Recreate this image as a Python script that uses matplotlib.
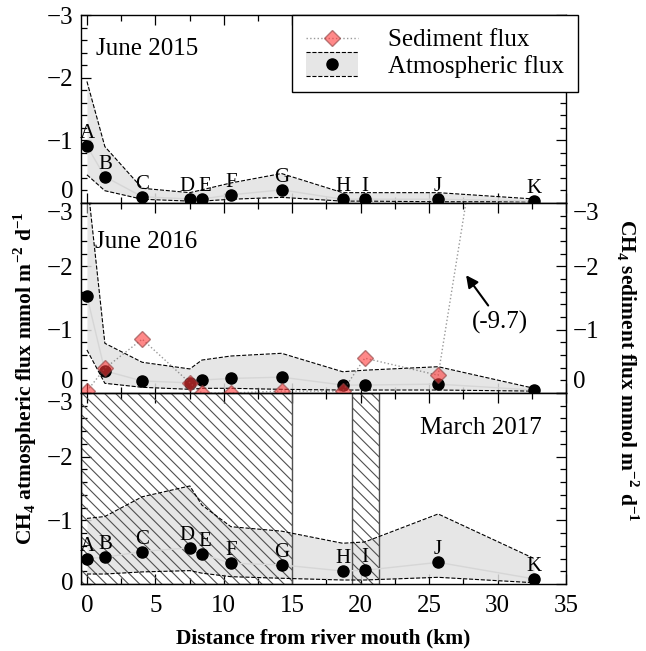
import matplotlib
matplotlib.use('Agg')
import matplotlib.pyplot as plt
from matplotlib.legend_handler import HandlerBase
from matplotlib.lines import Line2D
from matplotlib.patches import Rectangle, Patch

plt.rcParams['font.family'] = ['Liberation Serif', 'DejaVu Serif']
plt.rcParams['mathtext.fontset'] = 'custom'
plt.rcParams['mathtext.rm'] = 'Liberation Serif'
plt.rcParams['mathtext.bf'] = 'Liberation Serif:bold'
plt.rcParams['hatch.linewidth'] = 0.8

# Stations and distance from river mouth (km)
stations = ['A', 'B', 'C', 'D', 'E', 'F', 'G', 'H', 'I', 'J', 'K']
distance = [0, 1.31, 4.04, 7.52, 8.4, 10.52, 14.22, 18.68, 20.3, 25.66, 32.67]

# June 2015 atmospheric flux (mmol m-2 d-1): value, upper and lower bound
atm_2015 = [-0.91, -0.42, -0.10, -0.064, -0.064, -0.13, -0.21, -0.06, -0.06, -0.06, -0.03]
atm_2015_hi = [-1.94, -0.90, -0.235, -0.165, -0.21, -0.32, -0.47, -0.165, -0.165, -0.165, -0.064]
atm_2015_lo = [-0.45, -0.196, -0.06, -0.03, -0.03, -0.06, -0.09, -0.03, -0.03, -0.02, -0.02]

# June 2016
atm_2016 = [-1.53, -0.35, -0.19, -0.16, -0.205, -0.23, -0.25, -0.126, -0.126, -0.14, -0.047]
atm_2016_hi = [-3.4, -0.785, -0.485, -0.38, -0.52, -0.584, -0.627, -0.336, -0.36, -0.415, -0.074]
atm_2016_lo = [-0.68, -0.153, -0.09, -0.058, -0.074, -0.074, -0.058, -0.047, -0.047, -0.047, -0.03]
sed_2016 = [-0.03, -0.39, -0.85, -0.16, 0.0, 0.0, -0.03, -0.03, -0.55, -0.28, -9.7]

# March 2017
atm_2017 = [-0.40, -0.42, -0.51, -0.57, -0.47, -0.325, -0.30, -0.204, -0.215, -0.34, -0.08]
atm_2017_hi = [-1.03, -1.06, -1.37, -1.54, -1.24, -0.90, -0.83, -0.64, -0.66, -1.10, -0.40]
atm_2017_lo = [-0.157, -0.157, -0.19, -0.21, -0.17, -0.115, -0.09, -0.063, -0.063, -0.105, -0.02]

# hatched (no data) ranges in March 2017
hatch_spans = [(-0.47, 15.0), (19.33, 21.33)]

FS = 18
XLIM = (-0.47, 35)
# small sideways nudge (points) so that D and E labels don't collide
label_dx = {'D': -2, 'E': 2}


class BandHandler(HandlerBase):
    def create_artists(self, legend, orig_handle, xdescent, ydescent,
                       width, height, fontsize, trans):
        x0, y0 = -xdescent, -ydescent
        h0, h1 = y0 - 0.2 * height, y0 + 1.2 * height
        rect = Rectangle((x0, h0), width, h1 - h0, facecolor='#e6e6e6',
                         edgecolor='none', transform=trans)
        top = Line2D([x0, x0 + width], [h1, h1], ls='--', color='k', lw=0.8, transform=trans)
        bot = Line2D([x0, x0 + width], [h0, h0], ls='--', color='k', lw=0.8, transform=trans)
        dot = Line2D([x0 + width / 2], [y0 + height / 2], marker='o', color='k',
                     ms=8, ls='none', transform=trans)
        return [rect, top, bot, dot]


fig = plt.figure(figsize=(6.46, 6.51), dpi=100)
left, width = 80.5 / 646, 485.5 / 646
ax1 = fig.add_axes([left, 1 - 203 / 651, width, 188 / 651])
ax2 = fig.add_axes([left, 1 - 393 / 651, width, 190 / 651])
ax3 = fig.add_axes([left, 1 - 584 / 651, width, 191 / 651])


def draw_atm(ax, val, hi, lo, labels=True):
    ax.fill_between(distance, lo, hi, color='#e2e2e2', alpha=0.85, lw=0, zorder=2)
    ax.plot(distance, hi, ls='--', color='k', lw=0.8, zorder=2.5)
    ax.plot(distance, lo, ls='--', color='k', lw=0.8, zorder=2.5)
    ax.plot(distance, val, color='#d6d6d6', lw=1, zorder=2.5)
    ax.plot(distance, val, 'o', color='k', ms=8, zorder=3)
    if labels:
        for s, x, y in zip(stations, distance, val):
            ax.annotate(s, (x, y), xytext=(label_dx.get(s, 0), 9),
                        textcoords='offset points', ha='center', va='center',
                        fontsize=15, zorder=5)


def style(ax, right_ticks=True, xlabels=False, top_shift='top', bottom_shift='bottom'):
    ax.set_xlim(*XLIM)
    ax.set_ylim(0, -3)
    ax.set_xticks([0, 5, 10, 15, 20, 25, 30, 35])
    ax.set_xticks([2.5, 7.5, 12.5, 17.5, 22.5, 27.5, 32.5], minor=True)
    ax.set_yticks([0, -1, -2, -3])
    ax.set_yticks([-0.2 * i for i in range(1, 15) if i % 5], minor=True)
    ax.tick_params(which='both', direction='in', top=True, right=right_ticks,
                   labelsize=FS)
    ax.tick_params(which='major', length=7, width=0.9)
    ax.tick_params(which='minor', length=4, width=0.9)
    ax.tick_params(axis='y', pad=5)
    ax.tick_params(axis='x', pad=8, labelbottom=xlabels)
    ticks = ax.yaxis.get_major_ticks()
    if bottom_shift:
        ticks[0].label1.set_va(bottom_shift)
    if top_shift:
        ticks[-1].label1.set_va(top_shift)
    for sp in ax.spines.values():
        sp.set_linewidth(1.0)


# June 2015
draw_atm(ax1, atm_2015, atm_2015_hi, atm_2015_lo)
style(ax1, top_shift=None)
ax1.text(0.032, 0.82, 'June 2015', transform=ax1.transAxes, fontsize=FS, va='center')

sed_handle = Line2D([], [], ls=':', color='#555555', lw=1, marker='D', ms=8,
                    markerfacecolor='#ff3a3a', markeredgecolor='#8a4040', alpha=0.6)
atm_handle = Patch()
leg = ax1.legend([sed_handle, atm_handle], ['Sediment flux', 'Atmospheric flux'],
                 handler_map={atm_handle: BandHandler()}, loc='upper right',
                 bbox_to_anchor=(1.0247, 1.0), borderaxespad=0, fontsize=FS,
                 numpoints=1, handlelength=2.1, handletextpad=1.2,
                 labelspacing=0.15, fancybox=False, framealpha=1,
                 edgecolor='k', borderpad=0.55)
leg.get_frame().set_linewidth(1.0)
leg.set_zorder(10)

# June 2016
draw_atm(ax2, atm_2016, atm_2016_hi, atm_2016_lo, labels=False)
ax2.plot(distance, sed_2016, ls=':', color='#555555', lw=1, marker='D', ms=8,
         markerfacecolor='#ff3a3a', markeredgecolor='#8a4040', alpha=0.6, zorder=4)
style(ax2, right_ticks=False)
ax2.text(0.03, 0.795, 'June 2016', transform=ax2.transAxes, fontsize=FS, va='center')
ax2.annotate('(-9.7)', xy=(27.7, -1.86), xytext=(30.2, -1.12), fontsize=FS,
             ha='center', va='center',
             arrowprops=dict(arrowstyle='-|>', color='k', lw=1.5,
                             mutation_scale=18, shrinkA=2, shrinkB=0))
ax2r = ax2.twinx()
ax2r.set_ylim(0, -3)
ax2r.set_yticks([0, -1, -2, -3])
ax2r.set_yticks([-0.2 * i for i in range(1, 15) if i % 5], minor=True)
ax2r.tick_params(which='both', direction='in', labelsize=FS, pad=5)
ax2r.tick_params(which='major', length=7, width=0.9)
ax2r.tick_params(which='minor', length=4, width=0.9)
rticks = ax2r.yaxis.get_major_ticks()
rticks[0].label2.set_va('bottom')
rticks[-1].label2.set_va('top')

# March 2017
for x0, x1 in hatch_spans:
    ax3.axvspan(x0, x1, facecolor='none', edgecolor='#505050', hatch='\\\\\\',
                lw=1.0, zorder=2.2)
draw_atm(ax3, atm_2017, atm_2017_hi, atm_2017_lo)
style(ax3, xlabels=True, bottom_shift='center')
ax3.text(0.95, 0.817, 'March 2017', transform=ax3.transAxes, fontsize=FS,
         va='center', ha='right')
ax3.set_xlabel('Distance from river mouth (km)', fontsize=15.5, fontweight='bold',
               labelpad=8)

fig.text(0.0387, 0.419,
         r'CH$_\mathbf{4}$ atmospheric flux mmol m$^\mathbf{-2}$ d$^\mathbf{-1}$',
         rotation=90, ha='center', va='center', fontsize=15.5, fontweight='bold')
fig.text(0.9706, 0.4316,
         r'CH$_\mathbf{4}$ sediment flux mmol m$^\mathbf{-2}$ d$^\mathbf{-1}$',
         rotation=270, ha='center', va='center', fontsize=15.5, fontweight='bold')

fig.savefig('out.png', dpi=100)
